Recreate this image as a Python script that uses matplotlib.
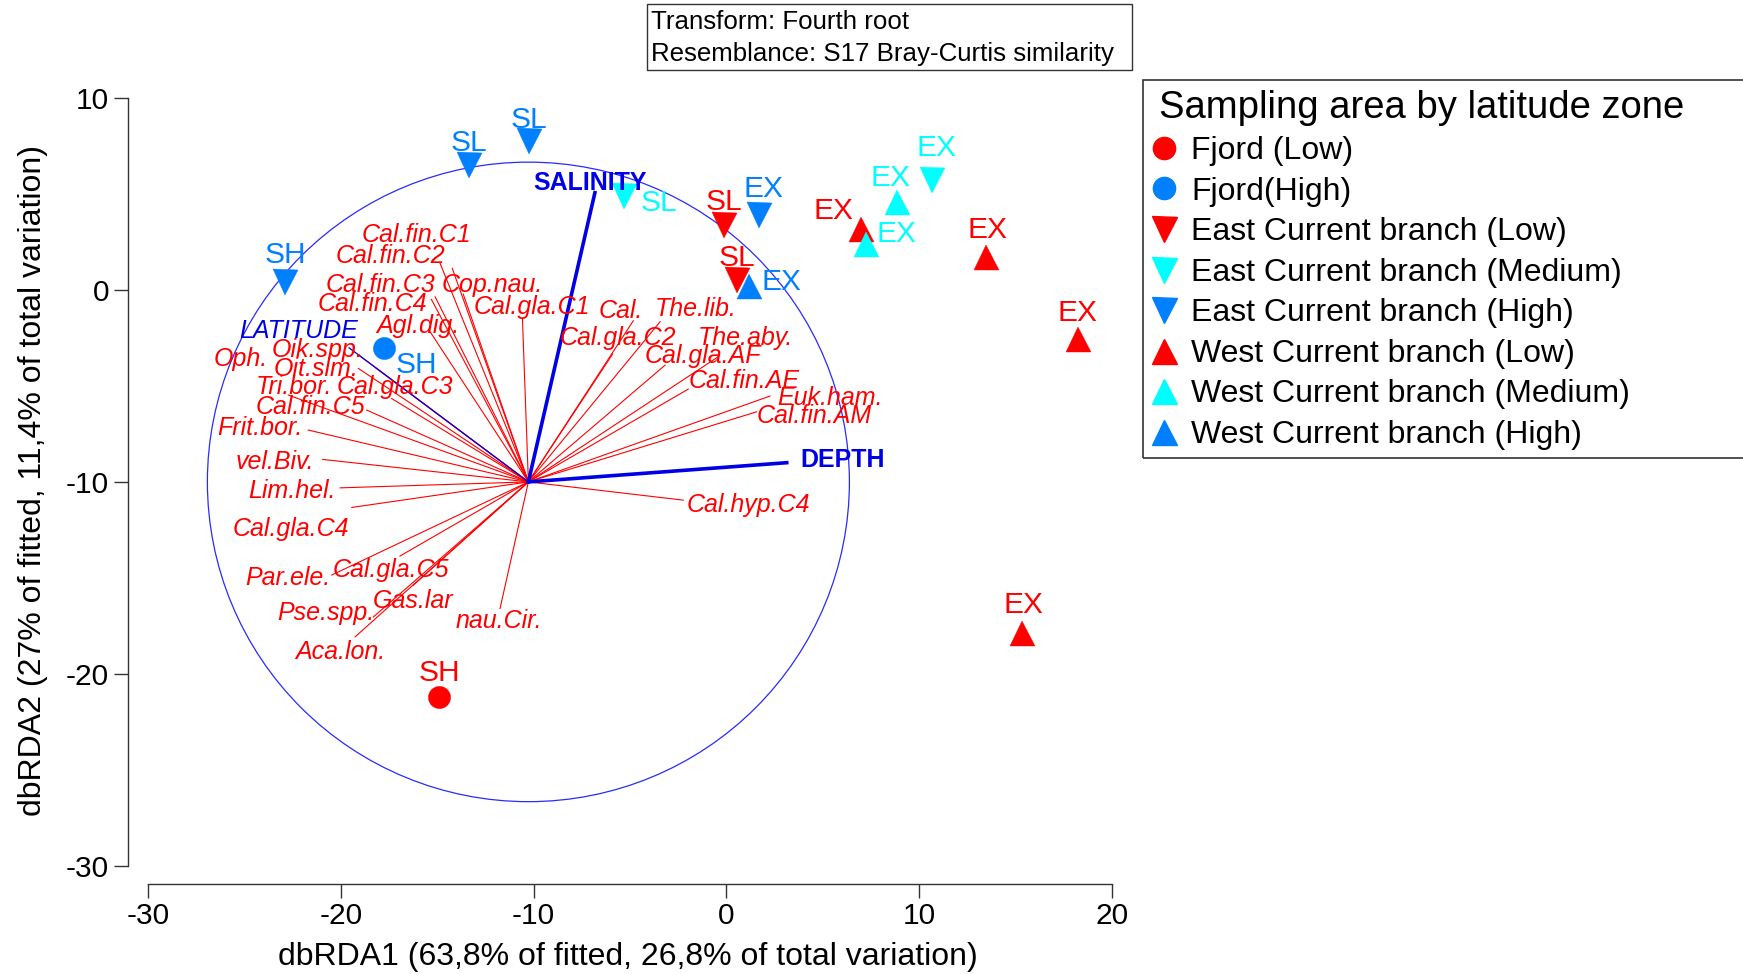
import matplotlib
matplotlib.use("Agg")
import matplotlib.pyplot as plt
from matplotlib.patches import Circle, Rectangle
from matplotlib.lines import Line2D

plt.rcParams['font.family'] = ['Liberation Sans', 'DejaVu Sans']
plt.rcParams['axes.unicode_minus'] = False

# sampling groups
groups = ['Fjord (Low)', 'Fjord(High)',
          'East Current branch (Low)', 'East Current branch (Medium)', 'East Current branch (High)',
          'West Current branch (Low)', 'West Current branch (Medium)', 'West Current branch (High)']
group_colors = ['#ff0000', '#0080ff', '#ff0000', '#00ffff', '#0080ff', '#ff0000', '#00ffff', '#0080ff']
group_markers = ['o', 'o', 'v', 'v', 'v', '^', '^', '^']

# samples (dbRDA1, dbRDA2)
site_x = [-14.9, -17.76, -0.12, 0.57, -5.31, 10.68, -10.23, -13.33, -22.89, 1.71,
          6.97, 13.45, 18.22, 15.31, 8.86, 7.24, 1.19]
site_y = [-21.2, -3.05, 3.37, 0.51, 4.89, 5.72, 7.74, 6.5, 0.42, 3.90,
          3.15, 1.72, -2.58, -17.85, 4.59, 2.39, 0.20]
site_label = ['SH', 'SH', 'SL', 'SL', 'SL', 'EX', 'SL', 'SL', 'SH', 'EX',
              'EX', 'EX', 'EX', 'EX', 'EX', 'EX', 'EX']
site_group = [0, 1, 2, 2, 3, 3, 4, 4, 4, 4, 5, 5, 5, 5, 6, 6, 7]
# label offsets in points
label_off = [(0, 17), (23, -12), (0, 17), (0, 16), (25, -5), (3, 23), (0, 15), (0, 16), (0, 19), (3, 19),
             (-20, 13), (1, 19), (0, 19), (1, 20), (-5, 17), (22, 7), (23, 3)]

# species vectors (tip and label position)
species = ['Cal.fin.C1', 'Cal.fin.C2', 'Cal.fin.C3', 'Cop.nau.', 'Cal.fin.C4', 'Cal.gla.C1', 'Agl.dig.',
           'Oik.spp.', 'Oph.', 'Oit.sim.', 'Tri.bor.', 'Cal.gla.C3', 'Cal.fin.C5', 'Frit.bor.',
           'vel.Biv.', 'Lim.hel.', 'Cal.gla.C4', 'Par.ele.', 'Cal.gla.C5', 'Gas.lar', 'Pse.spp.',
           'nau.Cir.', 'Aca.lon.', 'Cal.', 'The.lib.', 'Cal.gla.C2', 'The.aby.', 'Cal.gla.AF',
           'Cal.fin.AE', 'Euk.ham.', 'Cal.fin.AM', 'Cal.hyp.C4']
sp_x = [-14.22, -14.85, -15.11, -13.65, -15.3, -10.58, -15.37,
        -18.18, -19.1, -19.09, -22.72, -17.36, -18.66, -21.69,
        -20.94, -20.04, -19.43, -20.47, -16.93, -16.24, -18.31,
        -11.74, -19.26, -4.83, -3.44, -5.90, -0.42, -3.18,
        -1.98, 2.26, 1.57, -2.24]
sp_y = [1.12, 1.38, -0.36, -0.22, -0.5, -1.48, -2.18,
        -4.07, -3.37, -4.09, -5.48, -5.66, -6.26, -7.30,
        -8.83, -10.31, -11.33, -14.85, -13.86, -15.38, -17.03,
        -16.59, -18.07, -1.61, -1.66, -3.34, -3.48, -3.92,
        -5.17, -5.53, -6.35, -10.95]
sp_lab_x = [-16.06, -17.41, -17.93, -12.14, -18.37, -10.10, -16.0,
            -21.22, -25.2, -21.30, -22.43, -17.19, -21.56, -24.18,
            -23.41, -22.52, -22.60, -22.77, -17.41, -16.24, -20.78,
            -11.79, -20.04, -5.48, -1.59, -5.61, 1.0, -1.20,
            0.90, 5.37, 4.58, 1.16]
sp_lab_y = [2.88, 1.75, 0.24, 0.24, -0.76, -0.90, -1.89,
            -3.11, -3.61, -4.10, -5.06, -5.06, -6.10, -7.19,
            -8.98, -10.49, -12.45, -15.0, -14.57, -16.22, -16.83,
            -17.26, -18.86, -1.11, -1.02, -2.50, -2.53, -3.46,
            -4.76, -5.63, -6.58, -11.18]

# environmental vectors
env = ['SALINITY', 'DEPTH', 'LATITUDE']
env_x = [-6.82, 3.13, -19.57]
env_y = [5.06, -9.0, -3.02]
env_lab_x = [-7.07, 6.05, -22.2]
env_lab_y = [5.57, -8.84, -2.12]

origin = (-10.27, -10.0)
radius = 16.65

fig = plt.figure(figsize=(17.43, 9.74), dpi=100)
ax = fig.add_axes([148 / 1743, 108 / 974, 964 / 1743, 768.2 / 974])
ax.set_xlim(-30, 20)
ax.set_ylim(-30, 10)

ax.add_patch(Circle(origin, radius, fill=False, edgecolor='#2a2aff', lw=0.9, clip_on=False))

for i in range(len(species)):
    ax.plot([origin[0], sp_x[i]], [origin[1], sp_y[i]], color='#ff0000', lw=0.8, clip_on=False)
    ax.text(sp_lab_x[i], sp_lab_y[i], species[i], color='#ff0000', fontsize=18, style='italic',
            ha='center', va='center', clip_on=False)

for i in range(len(env)):
    thick = env[i] != 'LATITUDE'
    ax.plot([origin[0], env_x[i]], [origin[1], env_y[i]], color='#0000e6',
            lw=2.6 if thick else 0.9, clip_on=False)
    ax.text(env_lab_x[i], env_lab_y[i], env[i], color='#0000e6', fontsize=18,
            fontweight='bold' if thick else 'normal', style='normal' if thick else 'italic',
            ha='center', va='center', clip_on=False)

for g in range(len(groups)):
    xs = [site_x[i] for i in range(len(site_x)) if site_group[i] == g]
    ys = [site_y[i] for i in range(len(site_y)) if site_group[i] == g]
    ms = 16 if group_markers[g] == 'o' else 18
    ax.plot(xs, ys, linestyle='none', marker=group_markers[g], color=group_colors[g],
            markersize=ms, markeredgewidth=0.3, markeredgecolor=group_colors[g], clip_on=False)

for i in range(len(site_x)):
    ax.annotate(site_label[i], (site_x[i], site_y[i]), xytext=label_off[i], textcoords='offset points',
                color=group_colors[site_group[i]], fontsize=21.5, ha='center', va='center',
                annotation_clip=False)

# axes styling
for s in ['top', 'right']:
    ax.spines[s].set_visible(False)
ax.spines['left'].set_position(('outward', 14.5))
ax.spines['bottom'].set_position(('outward', 12.7))
ax.spines['left'].set_bounds(-30, 10)
ax.spines['bottom'].set_bounds(-30, 20)
for s in ['left', 'bottom']:
    ax.spines[s].set_color('#333333')
    ax.spines[s].set_linewidth(1.0)
ax.set_xticks([-30, -20, -10, 0, 10, 20])
ax.set_yticks([-30, -20, -10, 0, 10])
ax.tick_params(direction='out', length=10, width=1.0, color='#333333', labelsize=21.5, pad=3.5)
ax.set_xlabel('dbRDA1 (63,8% of fitted, 26,8% of total variation)', fontsize=23, va='center')
ax.xaxis.set_label_coords(0.498, -0.119)
ax.set_ylabel('dbRDA2 (27% of fitted, 11,4% of total variation)', fontsize=23, va='center')
ax.yaxis.set_label_coords(-0.119, 0.502)

# info box
fig.add_artist(Rectangle((647 / 1743, 1 - 70 / 974), 484.6 / 1743, 65.6 / 974, transform=fig.transFigure,
                         fill=False, edgecolor='#333333', lw=1.0))
fig.text(651 / 1743, 1 - 22 / 974, 'Transform: Fourth root', fontsize=18.6, ha='left', va='center')
fig.text(651 / 1743, 1 - 54 / 974, 'Resemblance: S17 Bray-Curtis similarity', fontsize=18.6,
         ha='left', va='center')

# legend (frame drawn separately, it runs past the right edge)
fig.add_artist(Rectangle((1142.7 / 1743, 1 - 458 / 974), 0.4, 378 / 974, transform=fig.transFigure,
                         fill=False, edgecolor='#333333', lw=1.2))
handles = [Line2D([], [], linestyle='none', marker=group_markers[g], color=group_colors[g],
                  markersize=16 if group_markers[g] == 'o' else 18) for g in range(len(groups))]
leg = fig.legend(handles, groups, loc='upper left', bbox_to_anchor=(1149.5 / 1743, 1 - 80 / 974),
                 bbox_transform=fig.transFigure, fontsize=23,
                 title='Sampling area by latitude zone', title_fontsize=27.5, alignment='left',
                 frameon=False, borderpad=0.3, labelspacing=0.33,
                 handlelength=0.3, handletextpad=0.7, borderaxespad=0)

fig.savefig('out.png', dpi=100)
